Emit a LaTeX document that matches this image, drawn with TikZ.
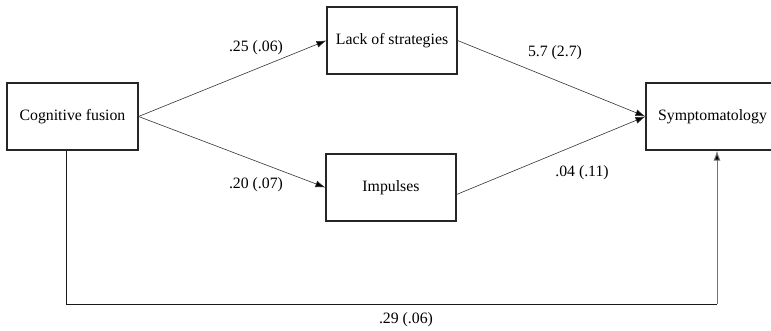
\documentclass[tikz,border=0pt]{standalone}
\usepackage{fontspec}
\setmainfont{Liberation Serif}
\usetikzlibrary{arrows.meta}
\begin{document}
\begin{tikzpicture}[x=1pt,y=-1pt,
  box/.style={draw=black!85, line width=1.1pt, rectangle, minimum height=67pt, inner sep=0pt},
  path/.style={draw=black!80, line width=0.6pt, -{Latex[length=10pt,width=7pt,fill=black]}},
  lab/.style={inner sep=0pt}]
\useasboundingbox (0,0) rectangle (771,331);
\fontsize{15.8}{19}\selectfont
\node[box, minimum width=131pt] (cf) at (72.5,116.5) {Cognitive fusion};
\node[box, minimum width=130pt] (lack) at (392,40.5) {Lack of strategies};
\node[box, minimum width=130pt] (imp) at (391,187.5) {Impulses};
\node[box, minimum width=144pt] (symp) at (718,116.5) {\hspace*{-11pt}Symptomatology};
\coordinate (c1) at (66,304);
\coordinate (c2) at (717,304);
\draw[path] (cf.east) -- (lack.west);
\draw[path] (cf.east) -- (imp.west);
\draw[path] (lack.east) -- (symp.west);
\draw[path] ([yshift=-7pt]imp.east) -- (symp.west);
\draw[black!90, line width=1pt] (cf.south -| c1) -- (c1) -- (c2);
\draw[path, draw=black!55, line width=1pt] (c2) -- (symp.south -| c2);
\node[lab] (l1) at (256,48) {.25 (.06)};
\node[lab] (l2) at (256,185) {.20 (.07)};
\node[lab] (l3) at (555,53) {5.7 (2.7)};
\node[lab] (l4) at (582,173) {.04 (.11)};
\node[lab] (l5) at (406,320) {.29 (.06)};
\end{tikzpicture}
\end{document}
